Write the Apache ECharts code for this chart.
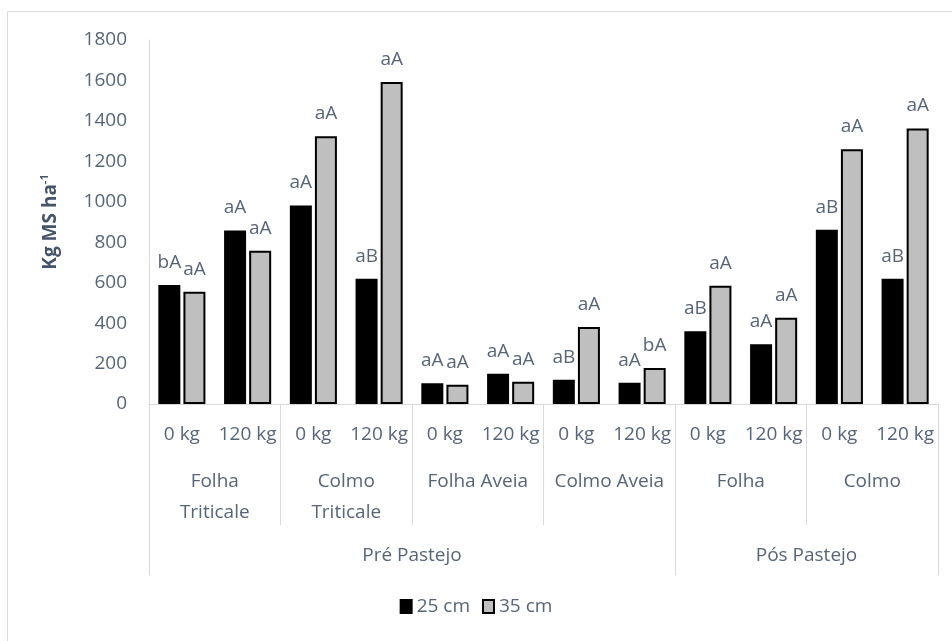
<!DOCTYPE html>
<html>
<head>
<meta charset="utf-8">
<script src="https://cdn.jsdelivr.net/npm/echarts@6/dist/echarts.min.js"></script>
<style>
html,body{margin:0;padding:0;background:#fff;}
#chart{width:952px;height:641px;}
</style>
</head>
<body>
<div id="chart"></div>
<script>
// ---- data ----
var doseLabels = ['0 kg','120 kg','0 kg','120 kg','0 kg','120 kg','0 kg','120 kg','0 kg','120 kg','0 kg','120 kg'];
var groupLabels = ['Folha\nTriticale','Colmo\nTriticale','Folha Aveia','Colmo Aveia','Folha','Colmo'];
var phaseLabels = ['Pré Pastejo','Pós Pastejo'];
var groupEdges = [0,2,4,6,8,10,12];
var groupCenters = [1,3,5,7,9,11];
var phaseEdges = [0,8,12];
var phaseCenters = [4,10];
var seriesNames = ['25 cm','35 cm'];
var values25 = [588,858,982,619,103,150,120,105,360,295,862,619];
var values35 = [555,758,1324,1592,95,110,381,178,585,426,1260,1362];
var letters25 = ['bA','aA','aA','aB','aA','aA','aB','aA','aB','aA','aB','aB'];
var letters35 = ['aA','aA','aA','aA','aA','aA','aA','bA','aA','aA','aA','aA'];
var yTicks = [0,200,400,600,800,1000,1200,1400,1600,1800];

var FONT = '"Open Sans", "Noto Sans", sans-serif';
var TXT = '#586579';
var LINE = '#d9d9d9';

var chart = echarts.init(document.getElementById('chart'), null, {renderer:'canvas'});

function withLetters(vals, letters){
  return vals.map(function(v,i){ return {value:v, letter:letters[i]}; });
}

var option = {
  animation:false,
  backgroundColor:'#fff',
  graphic:[{type:'rect', shape:{x:7.5,y:11.5,width:980,height:660}, style:{fill:'none',stroke:LINE,lineWidth:1}, silent:true, z:-1}],
  grid:{left:149, right:14, top:40, bottom:237, containLabel:false},
  legend:{
    data:seriesNames, bottom:20, left:'center', icon:'rect', itemWidth:11, itemHeight:13, itemGap:12,
    textStyle:{color:TXT, fontFamily:FONT, fontSize:19}
  },
  xAxis:[
    {
      type:'category', data:doseLabels, position:'bottom',
      axisLine:{show:true, lineStyle:{color:LINE, width:1}},
      axisTick:{show:false},
      axisLabel:{color:TXT, fontFamily:FONT, fontSize:19, margin:21, interval:0}
    },
    {
      type:'value', min:0, max:12, position:'bottom',
      axisLine:{show:false}, splitLine:{show:false},
      axisTick:{show:true, customValues:groupEdges, length:121, lineStyle:{color:LINE, width:1}},
      axisLabel:{customValues:groupCenters, color:TXT, fontFamily:FONT, fontSize:19, lineHeight:31, margin:62,
        formatter:function(v){ return groupLabels[groupCenters.indexOf(v)]; }}
    },
    {
      type:'value', min:0, max:12, position:'bottom',
      axisLine:{show:false}, splitLine:{show:false},
      axisTick:{show:true, customValues:phaseEdges, length:171, lineStyle:{color:LINE, width:1}},
      axisLabel:{customValues:phaseCenters, color:TXT, fontFamily:FONT, fontSize:19, margin:142,
        formatter:function(v){ return phaseLabels[phaseCenters.indexOf(v)]; }}
    }
  ],
  yAxis:{
    type:'value', min:yTicks[0], max:yTicks[yTicks.length-1], interval:200,
    axisLine:{show:true, onZero:false, lineStyle:{color:LINE, width:1}},
    axisTick:{show:false},
    splitLine:{show:false},
    axisLabel:{color:TXT, fontFamily:FONT, fontSize:19, margin:22, formatter:function(v){ return String(v); }},
    name:'{m|Kg MS ha}{s|-1}', nameLocation:'middle', nameRotate:90, nameGap:86,
    nameTextStyle:{rich:{
      m:{fontSize:19, fontWeight:'bold', color:'#44546A', fontFamily:FONT, lineHeight:24},
      s:{fontSize:11, fontWeight:'bold', color:'#44546A', fontFamily:FONT, verticalAlign:'top', lineHeight:24}
    }}
  },
  series:[
    {
      name:seriesNames[0], type:'bar', xAxisIndex:0, barWidth:22, barGap:'14%',
      data:withLetters(values25, letters25),
      itemStyle:{color:'#000000', borderColor:'#000000', borderWidth:2},
      label:{show:true, position:'top', distance:13, color:TXT, fontFamily:FONT, fontSize:19,
        formatter:function(p){ return p.data.letter; }}
    },
    {
      name:seriesNames[1], type:'bar', xAxisIndex:0, barWidth:22,
      data:withLetters(values35, letters35),
      itemStyle:{color:'#bfbfbf', borderColor:'#000000', borderWidth:2},
      label:{show:true, position:'top', distance:13, color:TXT, fontFamily:FONT, fontSize:19,
        formatter:function(p){ return p.data.letter; }}
    }
  ]
};
chart.setOption(option);
</script>
</body>
</html>
